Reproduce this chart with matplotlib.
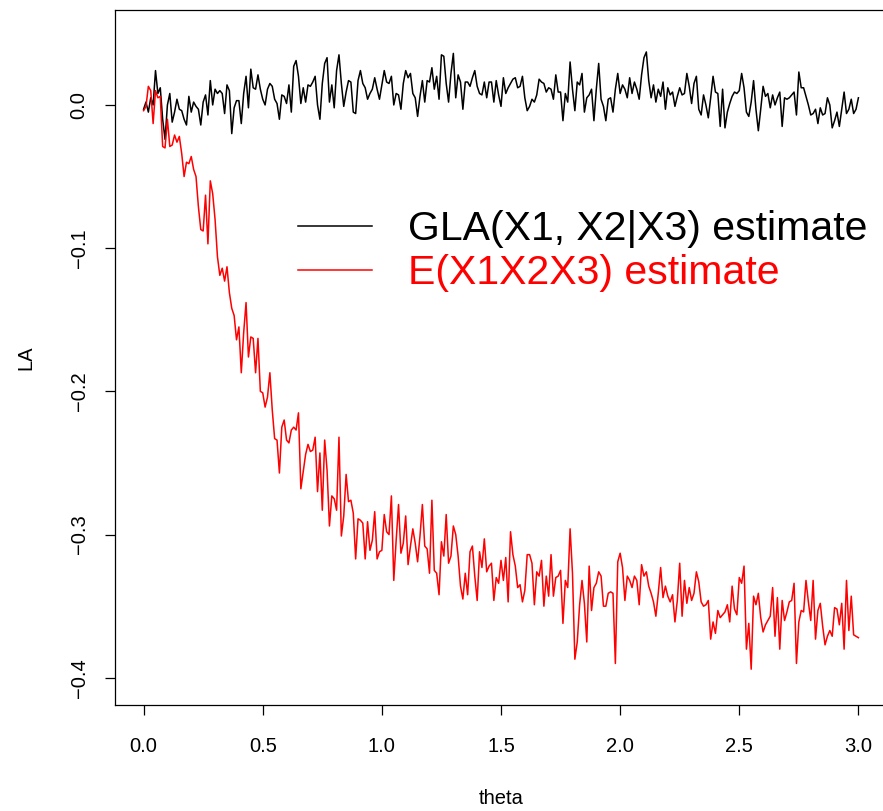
import numpy as np
import matplotlib
matplotlib.use("Agg")
import matplotlib.pyplot as plt

plt.rcParams['font.family'] = ['Liberation Sans', 'DejaVu Sans']

# theta grid: 0.00 .. 3.00 in steps of 0.01
theta = np.arange(301) / 100.0

# GLA(X1, X2|X3) estimate, in units of 1e-3
gla = [
    -3, 2, -5, 5, 0, 24, 8, 12, -10, -24,
    0, 8, -12, -5, 4, -3, -4, -10, -14, 6,
    -5, 2, -1, -3, -14, 2, 7, -7, 17, 0,
    11, 8, 10, 8, -6, 14, 10, -20, -2, 3,
    3, -13, 8, 20, -2, 25, 12, 11, 21, 11,
    4, 0, 11, 15, 13, 4, 1, -10, 7, 6,
    1, 14, -5, 27, 31, 20, 1, 12, 2, 14,
    13, 16, 20, 0, -10, 15, 29, 33, 2, 14,
    -2, 24, 35, 15, -1, 9, 17, 16, -5, -6,
    17, 24, 15, 12, 4, 8, 11, 19, 11, 4,
    14, 24, 16, 15, 20, 0, 8, 7, -3, 15,
    24, 19, 22, 8, 5, -8, 6, 17, 2, 17,
    16, 26, 11, 20, 4, 35, 34, 15, 2, 22,
    36, 5, 21, 16, -3, 16, 16, 13, 19, 24,
    13, 8, 7, 16, 5, 16, 16, 2, 17, 7,
    -1, 19, 8, 12, 15, 18, 19, 12, 13, 20,
    5, -4, -1, 4, 2, 7, 18, 16, 15, 9,
    12, 11, 4, 21, 9, 9, -11, 8, 2, 30,
    11, -4, 16, 14, 22, -5, 5, 7, 11, -11,
    11, 29, 4, -1, -11, 4, 5, -5, 11, 22,
    8, 14, 11, 5, 19, 8, 16, 11, 4, 21,
    33, 37, 17, 5, 14, 2, 11, 6, 16, -3,
    12, 7, 9, -1, 6, 12, 7, 8, 22, 13,
    1, 15, 20, -3, -7, 7, 0, -9, 5, 20,
    9, 8, -15, 11, -16, -5, 1, 6, 9, 8,
    10, 22, 12, -5, -8, 2, 17, -3, -18, -3,
    13, 6, 8, -2, 7, 0, 5, 9, -15, 5,
    4, 5, 7, 9, -7, 23, 12, 12, 6, 0,
    -7, -6, -3, -13, -2, -7, -6, 5, 0, -16,
    -11, -5, -15, -3, 9, -6, -3, 4, -6, -3,
    5,
]

# E(X1X2X3) estimate, in units of 1e-3
exyz = [
    -4, -1, 13, 10, -13, 10, 5, 6, -29, -30,
    -10, -29, -28, -21, -26, -22, -34, -50, -40, -41,
    -36, -45, -50, -71, -87, -88, -63, -97, -53, -62,
    -80, -106, -119, -114, -123, -113, -131, -142, -147, -164,
    -155, -187, -159, -138, -176, -162, -163, -187, -163, -200,
    -201, -211, -204, -187, -213, -233, -234, -257, -225, -220,
    -234, -236, -227, -225, -227, -215, -268, -256, -244, -237,
    -242, -241, -232, -270, -243, -283, -234, -255, -294, -273,
    -275, -283, -232, -301, -287, -258, -277, -276, -285, -317,
    -289, -290, -292, -317, -291, -311, -304, -284, -317, -312,
    -311, -286, -298, -300, -273, -332, -304, -279, -313, -306,
    -287, -321, -308, -296, -306, -319, -301, -279, -308, -310,
    -327, -276, -325, -327, -342, -305, -315, -286, -320, -315,
    -294, -300, -315, -336, -345, -327, -342, -312, -308, -329,
    -346, -312, -323, -303, -326, -322, -320, -346, -330, -334,
    -318, -332, -316, -347, -298, -314, -322, -337, -335, -347,
    -339, -314, -314, -320, -349, -326, -329, -318, -350, -329,
    -343, -314, -343, -330, -329, -325, -362, -332, -337, -296,
    -327, -387, -375, -349, -332, -348, -375, -322, -353, -337,
    -334, -326, -329, -350, -350, -341, -340, -341, -390, -319,
    -313, -323, -346, -329, -332, -337, -329, -332, -349, -321,
    -329, -326, -336, -341, -347, -357, -341, -323, -344, -336,
    -343, -347, -342, -361, -346, -320, -357, -332, -348, -337,
    -346, -341, -326, -333, -347, -350, -349, -346, -373, -361,
    -369, -353, -358, -356, -354, -349, -361, -336, -352, -356,
    -330, -334, -322, -380, -362, -394, -343, -349, -341, -358,
    -368, -363, -360, -357, -337, -371, -344, -380, -346, -360,
    -354, -347, -346, -334, -390, -361, -353, -354, -332, -347,
    -360, -332, -373, -353, -348, -364, -377, -371, -367, -371,
    -351, -352, -363, -348, -380, -332, -367, -343, -370, -371,
    -372,
]

gla = np.array(gla) / 1000.0
exyz = np.array(exyz) / 1000.0

xticks = [0.0, 0.5, 1.0, 1.5, 2.0, 2.5, 3.0]
yticks = [0.0, -0.1, -0.2, -0.3, -0.4]

W, H = 883, 811
fig = plt.figure(figsize=(W / 100, H / 100), dpi=100)
# box in pixels: left 115, right ~887 (cut off), top 10, bottom 705
ax = fig.add_axes([115 / W, (H - 705) / H, (887 - 115) / W, 695 / H])

ax.plot(theta, gla, color='black', lw=1.1, label='GLA(X1, X2|X3) estimate')
ax.plot(theta, exyz, color='red', lw=1.1, label='E(X1X2X3) estimate')

ax.set_xlim(-0.12, 3.12)
ax.set_ylim(-0.419, 0.0663)

ax.set_xticks(xticks)
ax.set_xticklabels(['%.1f' % v for v in xticks])
ax.set_yticks(yticks)
ax.set_yticklabels([('%.1f' % v).replace('-', '\u2212') for v in yticks],
                   rotation=90, va='center')
ax.tick_params(axis='both', direction='out', length=7, width=0.9,
               labelsize=14.5, color='black')
ax.tick_params(axis='x', pad=16)
ax.tick_params(axis='y', pad=12)

for s in ax.spines.values():
    s.set_linewidth(0.9)

ax.set_xlabel('theta', fontsize=14.5, labelpad=24)
ax.set_ylabel('LA', fontsize=14.5, labelpad=25)

leg = ax.legend(loc='center left', bbox_to_anchor=(278 / W, 1 - 251 / H),
                bbox_transform=fig.transFigure, frameon=False,
                fontsize=29.5, handlelength=1.8, handletextpad=0.88,
                labelspacing=0.14, borderpad=0, labelcolor='linecolor')
for line in leg.get_lines():
    line.set_linewidth(1.1)

fig.savefig('out.png', dpi=100)
